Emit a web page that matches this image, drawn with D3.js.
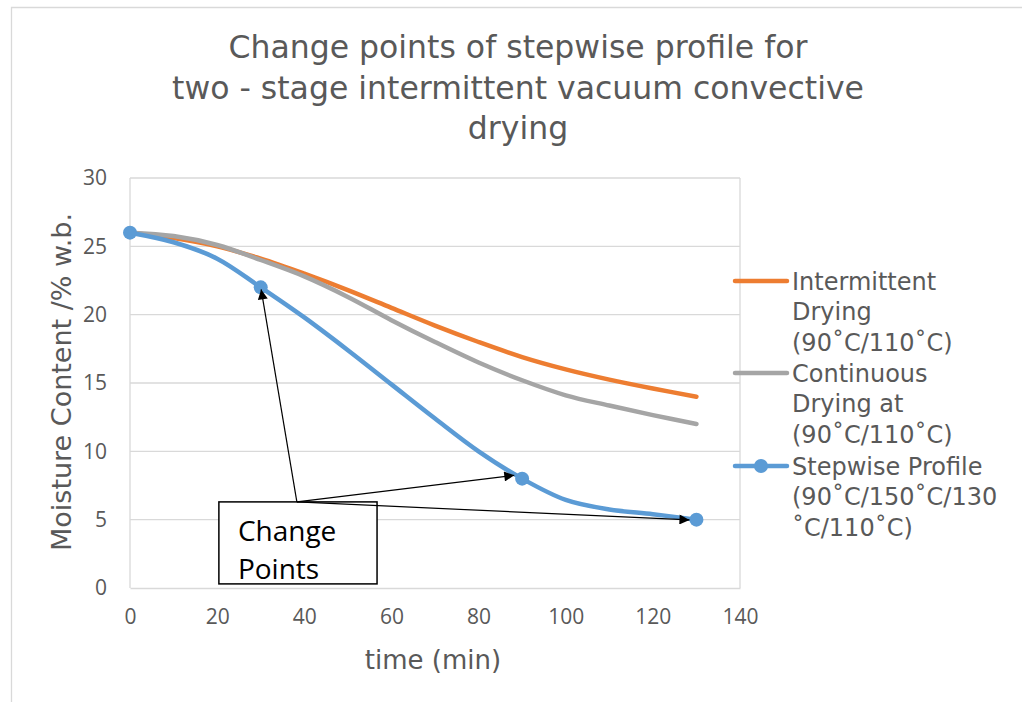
<!DOCTYPE html>
<html>
<head>
<meta charset="utf-8">
<script src="https://cdn.jsdelivr.net/npm/d3@7"></script>
<style>
  html, body { margin: 0; padding: 0; background: #fff; }
  svg { display: block; }
</style>
</head>
<body>
<svg id="chart" width="1022" height="702"></svg>
<script>
// ---------- DATA ----------
const titleLines = ["Change points of stepwise profile for", "two - stage intermittent vacuum convective", "drying"];
const xAxisTitle = "time (min)";
const yAxisTitle = "Moisture Content /% w.b.";
const xTicks = [0, 20, 40, 60, 80, 100, 120, 140];
const yTicks = [0, 5, 10, 15, 20, 25, 30];

const timeMin = [0, 10, 20, 30, 40, 50, 60, 70, 80, 90, 100, 110, 120, 130];
const intermittent = [26, 25.6, 25.0, 24.1, 23.0, 21.8, 20.5, 19.2, 18.0, 16.9, 16.0, 15.25, 14.6, 14.0];
const continuous   = [26, 25.75, 25.1, 24.0, 22.8, 21.3, 19.6, 18.0, 16.5, 15.2, 14.1, 13.35, 12.65, 12.0];
const stepwise     = [26, 25.3, 24.1, 22.0, 19.8, 17.4, 14.9, 12.4, 10.0, 8.0, 6.45, 5.75, 5.4, 5.0];

const changeTimes = [0, 30, 90, 130];
const changeValues = [26, 22, 8, 5];

const seriesNames = ["Intermittent", "Continuous", "Stepwise"];
const legendLabels = [
  ["Intermittent", "Drying", "(90˚C/110˚C)"],
  ["Continuous", "Drying at", "(90˚C/110˚C)"],
  ["Stepwise Profile", "(90˚C/150˚C/130", "˚C/110˚C)"]
];
const seriesColors = ["#ED7D31", "#A5A5A5", "#5B9BD5"];

// annotation (data units)
const annotationText = ["Change", "Points"];
const annotationBox = { t0: 20.4, t1: 56.7, m0: 0.3, m1: 6.3 };
const arrowStart = [38.3, 6.3];
const arrowTips = [[30.1, 21.85], [88.2, 8.25], [128.4, 4.98]];

// ---------- CHART ----------
const svg = d3.select("#chart");
const textColor = "#595959";
const gridColor = "#D9D9D9";

// outer chart border
svg.append("path")
  .attr("d", "M11.5,702 L11.5,7.5 L1022,7.5")
  .attr("fill", "none").attr("stroke", gridColor).attr("stroke-width", 1.3);

const x = d3.scaleLinear().domain([0, 140]).range([130, 740]);
const y = d3.scaleLinear().domain([0, 30]).range([588, 178]);

// title
const title = svg.append("text")
  .attr("text-anchor", "middle")
  .attr("fill", textColor)
  .style("font-family", "'DejaVu Sans', Verdana, sans-serif")
  .style("font-size", "31.5px");
titleLines.forEach((t, i) => {
  title.append("tspan").attr("x", 518).attr("y", 58 + i * 40.5).text(t);
});

// horizontal gridlines
svg.append("g").selectAll("line").data(yTicks.filter(d => d > 0)).join("line")
  .attr("x1", x(0)).attr("x2", x(140))
  .attr("y1", d => y(d)).attr("y2", d => y(d))
  .attr("stroke", gridColor).attr("stroke-width", 1.3);
// vertical lines at ends
svg.append("g").selectAll("line").data([0, 140]).join("line")
  .attr("x1", d => x(d)).attr("x2", d => x(d))
  .attr("y1", y(0)).attr("y2", y(30))
  .attr("stroke", gridColor).attr("stroke-width", 1.3);

// axes
const xAxis = d3.axisBottom(x).tickValues(xTicks).tickSize(0).tickPadding(21);
const gx = svg.append("g").attr("transform", `translate(0,${y(0)})`).call(xAxis);
gx.select(".domain").attr("stroke", gridColor).attr("stroke-width", 1.3);
gx.selectAll("text").attr("fill", textColor)
  .style("font-family", "'Open Sans', sans-serif").style("font-size", "21px");

const yAxis = d3.axisLeft(y).tickValues(yTicks).tickSize(0).tickPadding(23);
const gy = svg.append("g").attr("transform", `translate(${x(0)},0)`).call(yAxis);
gy.select(".domain").remove();
gy.selectAll("text").attr("fill", textColor)
  .style("font-family", "'Open Sans', sans-serif").style("font-size", "21px");

// axis titles
svg.append("text")
  .attr("x", 433).attr("y", 669)
  .attr("text-anchor", "middle").attr("fill", textColor)
  .style("font-family", "'DejaVu Sans', Verdana, sans-serif").style("font-size", "26px")
  .text(xAxisTitle);
svg.append("text")
  .attr("transform", `translate(71,382) rotate(-90)`)
  .attr("text-anchor", "middle").attr("fill", textColor)
  .style("font-family", "'DejaVu Sans', Verdana, sans-serif").style("font-size", "27px")
  .text(yAxisTitle);

// lines
const seriesValues = [intermittent, continuous, stepwise];
const line = d3.line()
  .x(d => x(d[0])).y(d => y(d[1]))
  .curve(d3.curveCatmullRom.alpha(0.5));

seriesValues.forEach((vals, i) => {
  svg.append("path")
    .datum(timeMin.map((t, j) => [t, vals[j]]))
    .attr("d", line)
    .attr("fill", "none")
    .attr("stroke", seriesColors[i])
    .attr("stroke-width", 4.5)
    .attr("stroke-linecap", "round")
    .attr("stroke-linejoin", "round");
});

// markers on change points
svg.append("g").selectAll("circle")
  .data(changeTimes.map((t, j) => [t, changeValues[j]]))
  .join("circle")
  .attr("cx", d => x(d[0])).attr("cy", d => y(d[1]))
  .attr("r", 7).attr("fill", seriesColors[2]);

// annotation box
svg.append("rect")
  .attr("x", x(annotationBox.t0)).attr("y", y(annotationBox.m1))
  .attr("width", x(annotationBox.t1) - x(annotationBox.t0))
  .attr("height", y(annotationBox.m0) - y(annotationBox.m1))
  .attr("fill", "#fff").attr("stroke", "#000").attr("stroke-width", 1.5);
annotationText.forEach((t, i) => {
  svg.append("text")
    .attr("fill", "#000")
    .style("font-family", "'Open Sans', sans-serif").style("font-size", "28px")
    .attr("x", x(annotationBox.t0) + 19)
    .attr("y", y(annotationBox.m1) + 39.5 + i * 38).text(t);
});

// arrows
svg.append("defs").append("marker")
  .attr("id", "arrowhead")
  .attr("viewBox", "0 0 10 10")
  .attr("refX", 10).attr("refY", 5)
  .attr("markerWidth", 13).attr("markerHeight", 10)
  .attr("markerUnits", "userSpaceOnUse")
  .attr("orient", "auto")
  .append("path").attr("d", "M0,0 L10,5 L0,10 Z").attr("fill", "#000");

svg.append("g").selectAll("line").data(arrowTips).join("line")
  .attr("x1", x(arrowStart[0])).attr("y1", y(arrowStart[1]))
  .attr("x2", d => x(d[0])).attr("y2", d => y(d[1]))
  .attr("stroke", "#000").attr("stroke-width", 1.2)
  .attr("marker-end", "url(#arrowhead)");

// legend
const legend = svg.append("g");
const legendTop = [281, 373, 466];
legendLabels.forEach((lines, i) => {
  const g = legend.append("g").attr("transform", `translate(0,${legendTop[i]})`);
  g.append("line").attr("x1", 735).attr("x2", 787).attr("y1", 0).attr("y2", 0)
    .attr("stroke", seriesColors[i]).attr("stroke-width", 4.5).attr("stroke-linecap", "round");
  if (seriesNames[i] === "Stepwise") {
    g.append("circle").attr("cx", 761).attr("cy", 0).attr("r", 7).attr("fill", seriesColors[i]);
  }
  const t = g.append("text").attr("fill", textColor)
    .style("font-family", "'DejaVu Sans', Verdana, sans-serif").style("font-size", "24px");
  lines.forEach((l, k) => {
    t.append("tspan").attr("x", 792).attr("y", 8.5 + k * 30.5).text(l);
  });
});
</script>
</body>
</html>
